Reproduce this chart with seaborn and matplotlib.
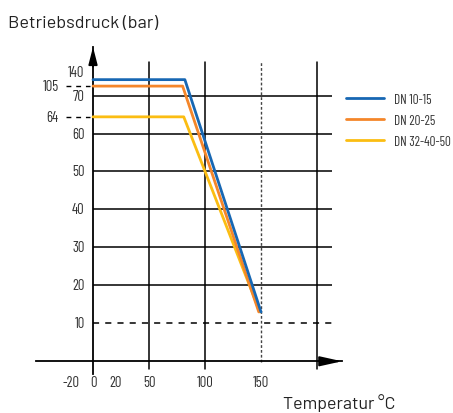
import numpy as np
import pandas as pd
import matplotlib.pyplot as plt
import seaborn as sns
from matplotlib.ticker import NullLocator

# Betriebsdruck je Nennweite
series = ['DN 10-15', 'DN 20-25', 'DN 32-40-50']
colors = ['#1767b3', '#f4862a', '#fbbd12']
temp_dn10 = [0, 82, 150]
druck_dn10 = [140, 140, 13]
temp_dn20 = [0, 80, 148]
druck_dn20 = [105, 105, 13]
temp_dn32 = [0, 81, 149]
druck_dn32 = [64, 64, 13]

ytick_vals = [140, 105, 70, 64, 60, 50, 40, 30, 20, 10]
xtick_vals = [-20, 0, 20, 50, 100, 150, 200]
xtick_labels = ['-20', '0', '20', '50', '100', '150', '']
hgrid = [70, 60, 50, 40, 30, 20]
vgrid = [50, 100, 200]

# schematic y axis: compressed above 70 bar
y_knots = [-100, 0, 60, 64, 70, 105, 140, 400]
y_place = [-100, 0, 60, 64.4, 70, 72.5, 74.2, 87.2]


def fwd(v):
    return np.interp(v, y_knots, y_place)


def inv(v):
    return np.interp(v, y_place, y_knots)


df = pd.concat([
    pd.DataFrame({'Temperatur': t, 'Druck': p, 'Serie': s})
    for s, t, p in zip(series, [temp_dn10, temp_dn20, temp_dn32],
                       [druck_dn10, druck_dn20, druck_dn32])
])

sns.set_style('white')
plt.rcParams['font.family'] = ['Barlow', 'DejaVu Sans']
narrow = ['Barlow Condensed', 'DejaVu Sans']
txt = '#333333'
ticks_font = {'family': narrow, 'size': 10.5}
legend_font = {'family': narrow, 'size': 9.5}

fig = plt.figure(figsize=(4.53, 4.14), dpi=100)
ax = fig.add_axes([36 / 453, 39 / 414, 306 / 453, 327 / 414])
ax.set_yscale('function', functions=(fwd, inv))

sns.lineplot(data=df, x='Temperatur', y='Druck', hue='Serie',
             hue_order=series[::-1], palette=colors[::-1],
             estimator=None, sort=False, lw=2, ax=ax, zorder=4)

ax.set_xlim(-50.9, 222.3)
ax.set_ylim(inv(-3.35), inv(82.8))
ax.set_xlabel('')
ax.set_ylabel('')

# grid
ax.hlines(hgrid, 0, 213.4, colors='k', lw=1.1, zorder=2)
ax.hlines([10], 0, 215, colors='k', lw=1.1, linestyles=(0, (4, 4)), zorder=2)
ax.hlines([105, 64], -24.1, -2.7, colors='k', lw=1.0,
          linestyles=(0, (3.5, 3.5)), clip_on=False)
for v in vgrid:
    ax.axvline(v, ymin=5 / 327, ymax=312 / 327, color='k', lw=1.1, zorder=2)
ax.axvline(150, ymin=12 / 327, ymax=312 / 327, color='#444444', lw=1.0,
           ls=(0, (2, 1.5)), zorder=2)

# axes with arrows
for s in ['top', 'right']:
    ax.spines[s].set_visible(False)
for s in ['left', 'bottom']:
    ax.spines[s].set_position(('data', 0))
    ax.spines[s].set_color('k')
    ax.spines[s].set_linewidth(1.3)
ax.annotate('', xy=(1, 0), xycoords=('axes fraction', 'data'),
            xytext=(0.93, 0), textcoords=('axes fraction', 'data'),
            arrowprops=dict(arrowstyle='-|>,head_length=1.35,head_width=0.3',
                            color='k', lw=1.3, mutation_scale=10,
                            shrinkA=0, shrinkB=0))
ax.annotate('', xy=(0, 1), xycoords=('data', 'axes fraction'),
            xytext=(0, 0.94), textcoords=('data', 'axes fraction'),
            arrowprops=dict(arrowstyle='-|>,head_length=1.05,head_width=0.27',
                            color='k', lw=1.3, mutation_scale=10,
                            shrinkA=0, shrinkB=0))

# ticks
ax.set_xticks(xtick_vals)
ax.set_xticklabels(xtick_labels, **ticks_font)
ax.tick_params(axis='x', direction='out', length=5.25, width=1.1,
               pad=4.5, color='k', labelcolor=txt)
ax.set_yticks([])
ax.yaxis.set_minor_locator(NullLocator())
for v in ytick_vals:
    dx = -24.75 if v in (105, 64) else -6
    dy = 5.8 if v == 140 else 0
    ax.annotate(str(v), xy=(0, v), xytext=(dx, dy), textcoords='offset points',
                ha='right', va='center', color=txt, annotation_clip=False,
                **ticks_font)

# legend
leg = ax.get_legend()
handles = leg.legend_handles[::-1]
labels = [t.get_text() for t in leg.texts][::-1]
ax.legend(handles, labels, loc='upper left',
          bbox_to_anchor=(346 / 453, 1 - 94 / 414), bbox_transform=fig.transFigure,
          frameon=False, borderpad=0, borderaxespad=0, handlelength=2.9,
          handletextpad=0.7, labelspacing=0.6, prop=legend_font, labelcolor=txt)

fig.text(8 / 453, 1 - 23 / 414, 'Betriebsdruck (bar)', fontsize=13,
         va='center', color='#222222')
fig.text(283 / 453, 1 - 403 / 414, 'Temperatur °C', fontsize=12.8,
         va='center', color='#222222')

fig.savefig('out.png', dpi=100)
